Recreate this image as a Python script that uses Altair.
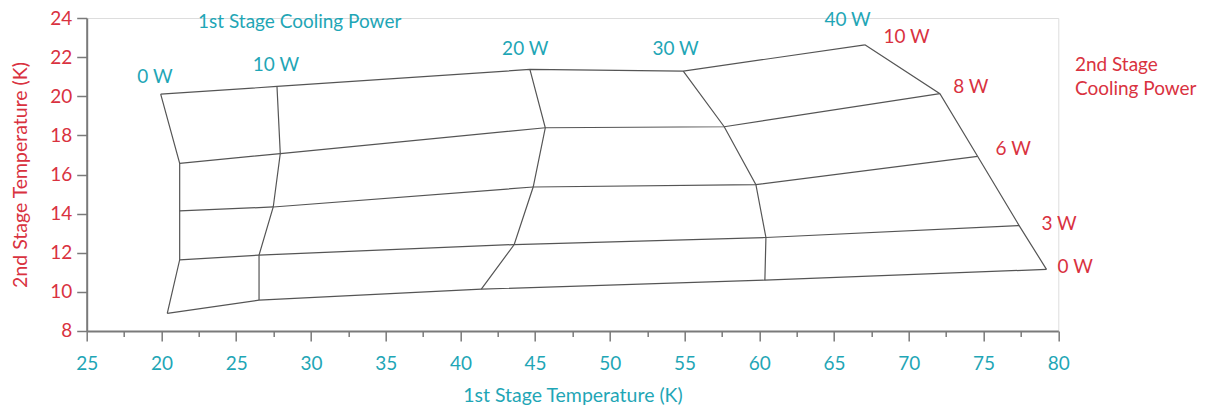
import altair as alt
import pandas as pd

# ---- data ----
first_stage_power = [0, 10, 20, 30, 40]          # W, lines of constant 1st stage power
second_stage_power = [0, 3, 6, 8, 10]            # W, lines of constant 2nd stage power

# 1st stage temperature (K) for each 1st-stage power line, at 2nd stage power 0,3,6,8,10 W
t1 = {
    0:  [20.39, 21.22, 21.22, 21.22, 19.95],
    10: [26.53, 26.53, 27.48, 27.95, 27.73],
    20: [41.40, 43.60, 44.87, 45.68, 44.65],
    30: [60.37, 60.44, 59.77, 57.65, 54.91],
    40: [79.21, 77.38, 74.60, 72.08, 67.06],
}
# 2nd stage temperature (K)
t2 = {
    0:  [8.90, 11.64, 14.14, 16.57, 20.11],
    10: [9.58, 11.88, 14.34, 17.07, 20.50],
    20: [10.14, 12.42, 15.36, 18.39, 21.37],
    30: [10.60, 12.78, 15.48, 18.44, 21.28],
    40: [11.15, 13.39, 16.93, 20.13, 22.63],
}

# annotation labels (data coordinates)
p1_labels = ["0 W", "10 W", "20 W", "30 W", "40 W"]
p1_label_x = [19.57, 27.66, 44.34, 54.40, 65.90]
p1_label_y = [20.96, 21.60, 22.39, 22.39, 23.92]

p2_labels = ["10 W", "8 W", "6 W", "3 W", "0 W"]
p2_label_x = [69.85, 74.15, 76.98, 80.05, 81.13]
p2_label_y = [23.04, 20.49, 17.30, 13.47, 11.27]

p1_title = ["1st Stage Cooling Power"]
p1_title_x = [29.25]
p1_title_y = [23.80]

p2_title = ["2nd Stage", "Cooling Power"]
p2_title_x = [81.11]
p2_title_y = [21.62]

x_tick_values = [15, 17.5, 20, 22.5, 25, 27.5, 30, 32.5, 35, 37.5, 40, 42.5, 45, 47.5,
                 50, 52.5, 55, 57.5, 60, 62.5, 65, 67.5, 70, 72.5, 75, 77.5, 80]
x_major_values = [15, 20, 25, 30, 35, 40, 45, 50, 55, 60, 65, 70, 75, 80]
x_major_labels = ["25", "20", "25", "30", "35", "40", "45", "50", "55", "60", "65", "70", "75", "80"]
y_tick_values = [8, 10, 12, 14, 16, 18, 20, 22, 24]

# ---- styling ----
RED = "#d9323f"
TEAL = "#1fa6b6"
FONT = "Lato"
AXIS_GRAY = "#7a7a7a"
LINE_GRAY = "#555555"
FS = 19

rows = []
for p1 in first_stage_power:
    for i, p2 in enumerate(second_stage_power):
        rows.append({"p1": p1, "p2": p2, "t1": t1[p1][i], "t2": t2[p1][i]})
grid = pd.DataFrame(rows)

label_map = "{" + ",".join(f"'{v}':'{l}'" for v, l in zip(x_major_values, x_major_labels)) + "}"
label_expr = f"({label_map})[''+datum.value] || ''"

x_scale = alt.Scale(domain=[15, 80], nice=False, zero=False)
y_scale = alt.Scale(domain=[8, 24], nice=False, zero=False)

x_axis = alt.Axis(
    values=x_tick_values,
    labelExpr=label_expr,
    tickSize={"condition": {"test": "datum.value % 5 === 0", "value": 10}, "value": 5.5},
    labelPadding={"condition": {"test": "datum.value % 5 === 0", "value": 14}, "value": 18.5},
    title="1st Stage Temperature (K)",
    titleColor=TEAL, titleFont=FONT, titleFontSize=19.5, titleFontWeight="normal",
    titlePadding=13,
    labelColor=TEAL, labelFont=FONT, labelFontSize=FS,
    domainColor=AXIS_GRAY, domainWidth=2, tickColor=AXIS_GRAY, tickWidth=1.5,
    grid=False, labelFlush=False, labelOverlap=False,
)
y_axis = alt.Axis(
    values=y_tick_values,
    tickCount=9,
    title="2nd Stage Temperature (K)",
    titleColor=RED, titleFont=FONT, titleFontSize=19.5, titleFontWeight="normal",
    titlePadding=19,
    labelColor=RED, labelFont=FONT, labelFontSize=FS, labelPadding=5,
    domainColor=AXIS_GRAY, domainWidth=2, tickColor=AXIS_GRAY, tickWidth=1.5, tickSize=10,
    grid=False, labelFlush=False, labelOverlap=False,
)

X = lambda f: alt.X(f, type="quantitative", scale=x_scale, axis=x_axis)
Y = lambda f: alt.Y(f, type="quantitative", scale=y_scale, axis=y_axis)

base = alt.Chart(grid)

lines_p1 = base.mark_line(color=LINE_GRAY, strokeWidth=1.2).encode(
    x=X("t1"), y=Y("t2"), detail="p1:N", order="p2:Q",
)
lines_p2 = base.mark_line(color=LINE_GRAY, strokeWidth=1.2).encode(
    x=X("t1"), y=Y("t2"), detail="p2:N", order="p1:Q",
)

teal_df = pd.DataFrame({"label": p1_labels, "x": p1_label_x, "y": p1_label_y})
red_df = pd.DataFrame({"label": p2_labels, "x": p2_label_x, "y": p2_label_y})
t1_df = pd.DataFrame({"label": p1_title, "x": p1_title_x, "y": p1_title_y})
t2_df = pd.DataFrame({"label": [p2_title], "x": p2_title_x, "y": p2_title_y})

teal_text = alt.Chart(teal_df).mark_text(
    color=TEAL, font=FONT, fontSize=FS, align="center", baseline="middle"
).encode(x=X("x"), y=Y("y"), text="label:N")

red_text = alt.Chart(red_df).mark_text(
    color=RED, font=FONT, fontSize=FS, align="center", baseline="middle"
).encode(x=X("x"), y=Y("y"), text="label:N")

title1 = alt.Chart(t1_df).mark_text(
    color=TEAL, font=FONT, fontSize=FS, align="center", baseline="middle"
).encode(x=X("x"), y=Y("y"), text="label:N")

title2 = alt.Chart(t2_df).mark_text(
    color=RED, font=FONT, fontSize=FS, align="left", baseline="middle", lineHeight=24
).encode(x=X("x"), y=Y("y"), text="label")

chart = alt.layer(lines_p1, lines_p2, teal_text, red_text, title1, title2).properties(
    width=971.6,
    height=313,
    autosize=alt.AutoSizeParams(type="none"),
    padding={"left": 78.7, "top": 10, "right": 140, "bottom": 77},
).configure_view(fill="#f6fafc", stroke=None).configure(background="white").configure_axis(
    labelOverlap=False
)

chart.save("out.html", embed_options={"renderer": "svg", "actions": False})
